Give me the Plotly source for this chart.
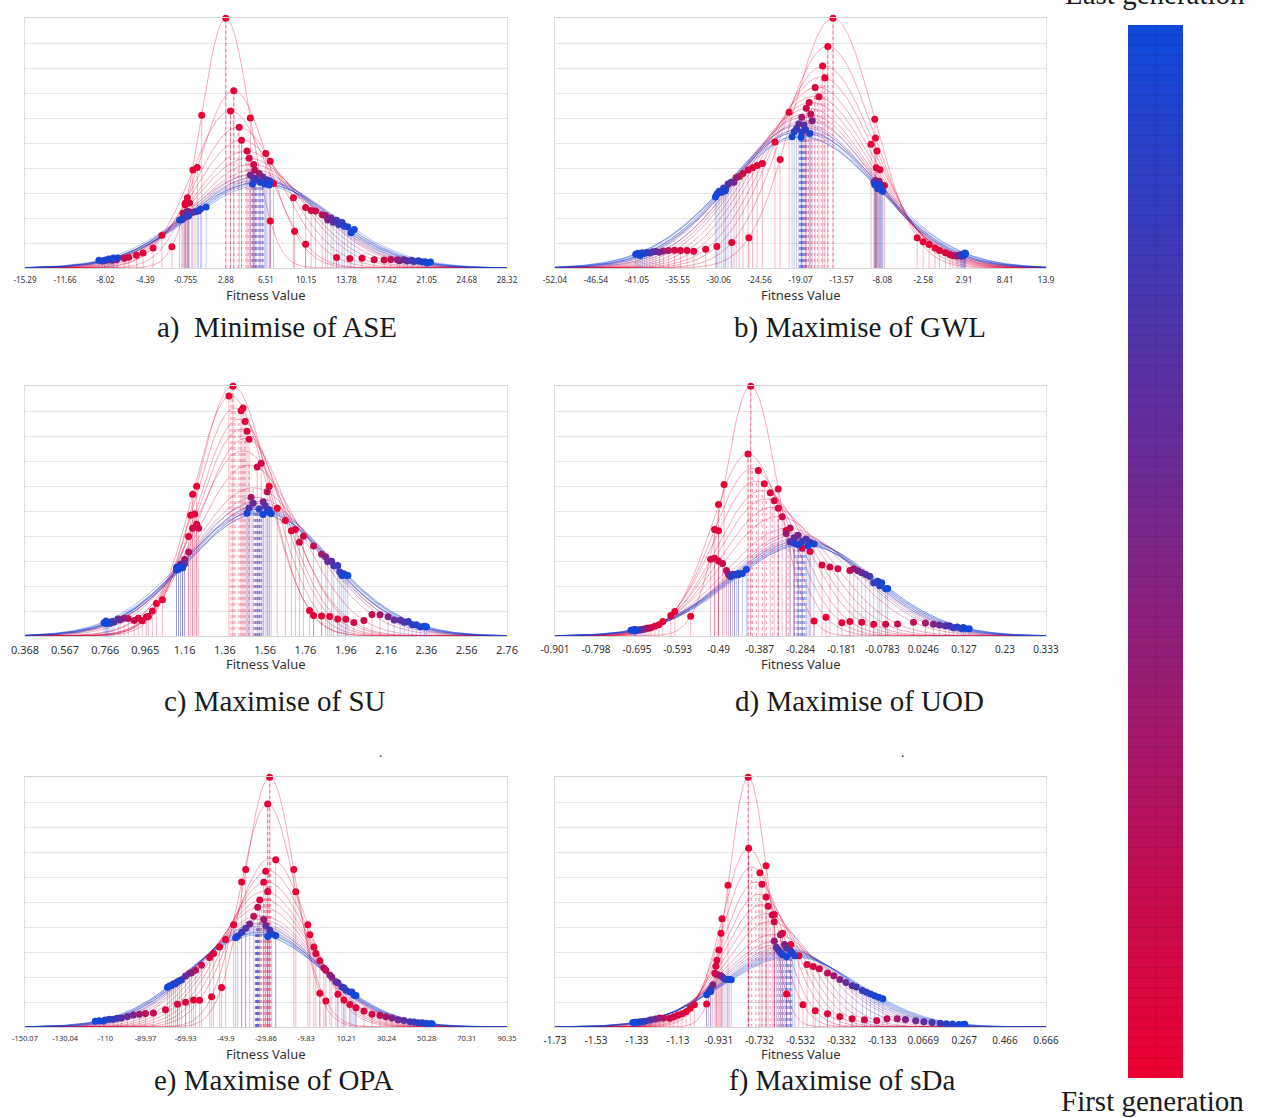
import numpy as np
import plotly.graph_objects as go

W, H = 1266, 1118

# ---------------- data ----------------
# generation numbers shown (out of 100), shared by all panels
gen_no = [1, 2, 3, 4, 6, 8, 11, 15, 22, 35, 50, 60, 68, 75, 81, 86, 90, 94, 97, 100]
GEN_LAST = 100

a_ticks = ["-15.29", "-11.66", "-8.02", "-4.39", "-0.755", "2.88", "6.51", "10.15", "13.78", "17.42", "21.05", "24.68", "28.32"]
a_mean = [2.88, 3.6, 3.3, 4.0, 4.3, 4.7, 4.9, 5.2, 5.4, 5.6, 5.3, 5.8, 5.5, 6.0, 5.7, 6.2, 5.9, 6.1, 5.6, 6.3]
a_sigma = [2.2, 3.1, 3.5, 3.9, 4.3, 4.7, 5.0, 5.3, 5.6, 5.8, 5.9, 6.0, 6.1, 6.2, 6.2, 6.3, 6.4, 6.5, 6.5, 6.6]
a_pts = [[-2.0, 0.7, 2.88, 5.1, 6.9], [-0.8, 0.3, 3.6, 6.5, 9.1], [-2.9, -0.1, 3.3, 7.2, 10.1],
         [-3.7, -0.6, 4.1, 6.9, 12.9], [-4.6, -0.8, 4.3, 9.0, 14.1], [-5.2, -0.4, 4.8, 10.1, 15.2],
         [-5.9, -1.0, 5.0, 10.6, 16.3], [-6.3, -0.7, 5.4, 11.0, 17.2], [-7.0, -0.5, 5.5, 11.6, 17.8],
         [-7.4, -0.9, 5.9, 11.9, 18.4], [-7.8, -0.6, 5.1, 12.1, 18.6], [-7.2, -0.2, 6.2, 12.4, 19.0],
         [-8.1, -0.8, 5.4, 12.6, 19.3], [-7.5, 0.1, 6.6, 12.9, 19.7], [-8.3, -1.1, 5.6, 13.1, 19.9],
         [-6.9, 0.4, 6.9, 13.4, 20.3], [-8.0, -0.5, 6.0, 13.6, 20.6], [-7.7, 0.6, 5.3, 13.9, 20.9],
         [-8.6, -1.3, 6.4, 14.2, 21.1], [-7.3, 1.1, 6.8, 14.5, 21.4]]

b_ticks = ["-52.04", "-46.54", "-41.05", "-35.55", "-30.06", "-24.56", "-19.07", "-13.57", "-8.08", "-2.58", "2.91", "8.41", "13.9"]
b_mean = [-14.7, -15.4, -15.9, -16.3, -16.8, -17.2, -17.6, -18.0, -18.2, -18.5, -18.3, -18.7, -18.9, -18.6, -19.0, -18.8, -19.2, -18.4, -19.1, -18.9]
b_sigma = [5.5, 6.2, 6.8, 7.2, 7.6, 8.0, 8.3, 8.6, 8.9, 9.1, 9.3, 9.5, 9.6, 9.8, 9.9, 10.0, 10.1, 10.2, 10.4, 10.5]
b_pts = [[-26.0, -21.8, -14.7, -9.1, -3.4], [-28.3, -20.6, -15.4, -9.0, -2.6], [-30.3, -22.5, -16.1, -8.8, -1.8],
         [-31.8, -24.2, -15.8, -9.6, -1.0], [-33.4, -24.9, -17.1, -8.4, -0.4], [-34.3, -25.5, -16.6, -8.9, 0.4],
         [-35.2, -26.1, -17.9, -7.8, 1.0], [-36.0, -26.8, -18.3, -8.5, 1.4], [-36.8, -27.3, -17.7, -8.2, 1.8],
         [-37.5, -27.7, -18.9, -9.0, 2.0], [-38.0, -28.0, -17.5, -8.6, 2.2], [-38.5, -28.4, -19.3, -8.9, 2.4],
         [-38.9, -28.8, -18.6, -9.2, 2.5], [-39.3, -29.1, -19.6, -8.3, 2.6], [-39.7, -29.4, -18.4, -8.8, 2.7],
         [-40.0, -29.7, -19.9, -8.0, 2.8], [-40.3, -30.0, -18.9, -8.7, 2.9], [-40.6, -29.2, -17.8, -8.4, 3.0],
         [-40.9, -30.3, -20.2, -9.1, 3.0], [-41.2, -30.5, -19.0, -8.1, 3.1]]

c_ticks = ["0.368", "0.567", "0.766", "0.965", "1.16", "1.36", "1.56", "1.76", "1.96", "2.16", "2.36", "2.56", "2.76"]
c_mean = [1.40, 1.39, 1.41, 1.43, 1.44, 1.46, 1.45, 1.48, 1.50, 1.51, 1.52, 1.51, 1.53, 1.52, 1.54, 1.52, 1.53, 1.51, 1.54, 1.53]
c_sigma = [0.178, 0.185, 0.195, 0.205, 0.215, 0.225, 0.24, 0.26, 0.30, 0.32, 0.33, 0.335, 0.34, 0.345, 0.35, 0.35, 0.355, 0.36, 0.36, 0.365]
c_pts = [[1.05, 1.22, 1.40, 1.58, 1.78], [1.02, 1.20, 1.38, 1.45, 1.80], [1.00, 1.19, 1.44, 1.62, 1.84],
         [0.98, 1.21, 1.46, 1.66, 1.88], [0.97, 1.18, 1.47, 1.69, 1.92], [0.95, 1.22, 1.48, 1.71, 1.96],
         [0.93, 1.20, 1.54, 1.73, 2.00], [0.91, 1.23, 1.52, 1.75, 2.05], [0.88, 1.18, 1.57, 1.80, 2.09],
         [0.86, 1.16, 1.49, 1.84, 2.13], [0.84, 1.15, 1.55, 1.86, 2.17], [0.83, 1.14, 1.50, 1.87, 2.20],
         [0.81, 1.16, 1.56, 1.89, 2.23], [0.80, 1.13, 1.48, 1.90, 2.25], [0.79, 1.15, 1.58, 1.92, 2.27],
         [0.78, 1.12, 1.53, 1.93, 2.29], [0.78, 1.14, 1.57, 1.95, 2.31], [0.77, 1.12, 1.47, 1.94, 2.33],
         [0.77, 1.15, 1.59, 1.97, 2.35], [0.76, 1.13, 1.55, 1.96, 2.36]]

d_ticks = ["-0.901", "-0.798", "-0.695", "-0.593", "-0.49", "-0.387", "-0.284", "-0.181", "-0.0783", "0.0246", "0.127", "0.23", "0.333"]
d_mean = [-0.409, -0.416, -0.405, -0.395, -0.38, -0.37, -0.355, -0.34, -0.315, -0.30, -0.295, -0.29, -0.285, -0.28, -0.29, -0.275, -0.285, -0.27, -0.28, -0.275]
d_sigma = [0.067, 0.092, 0.10, 0.108, 0.115, 0.122, 0.13, 0.14, 0.155, 0.162, 0.166, 0.17, 0.172, 0.175, 0.177, 0.178, 0.18, 0.181, 0.183, 0.185]
d_pts = [[-0.56, -0.476, -0.409, -0.34, -0.25], [-0.60, -0.49, -0.416, -0.32, -0.22], [-0.61, -0.50, -0.39, -0.30, -0.18],
         [-0.63, -0.49, -0.375, -0.28, -0.16], [-0.64, -0.51, -0.36, -0.26, -0.13], [-0.65, -0.50, -0.35, -0.23, -0.10],
         [-0.66, -0.49, -0.34, -0.21, -0.07], [-0.665, -0.48, -0.33, -0.19, -0.04], [-0.67, -0.47, -0.31, -0.16, 0.0],
         [-0.675, -0.465, -0.32, -0.15, 0.03], [-0.68, -0.46, -0.29, -0.14, 0.05], [-0.685, -0.455, -0.30, -0.13, 0.065],
         [-0.69, -0.45, -0.27, -0.12, 0.08], [-0.695, -0.445, -0.31, -0.11, 0.09], [-0.70, -0.46, -0.28, -0.10, 0.10],
         [-0.70, -0.44, -0.26, -0.09, 0.11], [-0.705, -0.45, -0.30, -0.085, 0.12], [-0.70, -0.43, -0.25, -0.08, 0.125],
         [-0.71, -0.44, -0.29, -0.07, 0.13], [-0.70, -0.42, -0.265, -0.065, 0.14]]

e_ticks = ["-150.07", "-130.04", "-110", "-89.97", "-69.93", "-49.9", "-29.86", "-9.83", "10.21", "30.24", "50.28", "70.31", "90.35"]
e_mean = [-28.0, -29.0, -27.5, -28.5, -29.5, -30.5, -31.0, -32.0, -32.5, -33.0, -33.5, -34.0, -33.8, -34.5, -34.2, -35.0, -34.6, -33.5, -35.2, -34.8]
e_sigma = [12.5, 14.0, 18.5, 20.0, 21.5, 23.0, 24.5, 26.0, 28.0, 29.0, 30.0, 30.5, 31.0, 31.5, 32.0, 32.5, 33.0, 33.0, 33.5, 34.0]
e_pts = [[-52, -40, -28, -16, -3], [-57, -42, -29, -15, 0], [-63, -46, -25, -9, 6],
         [-66, -50, -30, -8, 9], [-70, -53, -31, -6, 12], [-74, -56, -29, -5, 15],
         [-80, -58, -33, -3, 19], [-86, -62, -34, -1, 23], [-90, -65, -36, 0, 27],
         [-93, -67, -31, 2, 30], [-96, -68, -38, 3, 33], [-99, -70, -30, 5, 36],
         [-102, -72, -40, 6, 39], [-104, -74, -28, 8, 42], [-106, -75, -42, 9, 44],
         [-108, -76, -27, 10, 46], [-110, -77, -44, 12, 48], [-111, -73, -25, 13, 50],
         [-113, -79, -45, 14, 52], [-115, -78, -29, 15, 53]]

f_ticks = ["-1.73", "-1.53", "-1.33", "-1.13", "-0.931", "-0.732", "-0.532", "-0.332", "-0.133", "0.0669", "0.267", "0.466", "0.666"]
f_mean = [-0.787, -0.785, -0.77, -0.75, -0.735, -0.72, -0.70, -0.68, -0.66, -0.645, -0.635, -0.625, -0.615, -0.605, -0.60, -0.595, -0.59, -0.585, -0.58, -0.575]
f_sigma = [0.093, 0.13, 0.145, 0.16, 0.175, 0.19, 0.205, 0.22, 0.25, 0.27, 0.28, 0.29, 0.295, 0.30, 0.305, 0.31, 0.315, 0.32, 0.325, 0.33]
f_pts = [[-0.99, -0.886, -0.787, -0.70, -0.60], [-1.05, -0.915, -0.785, -0.66, -0.52], [-1.07, -0.92, -0.73, -0.62, -0.46],
         [-1.09, -0.93, -0.72, -0.58, -0.40], [-1.11, -0.94, -0.70, -0.54, -0.34], [-1.13, -0.945, -0.69, -0.50, -0.28],
         [-1.15, -0.95, -0.67, -0.47, -0.22], [-1.17, -0.94, -0.66, -0.44, -0.16], [-1.20, -0.93, -0.63, -0.40, -0.11],
         [-1.22, -0.92, -0.66, -0.37, -0.06], [-1.24, -0.96, -0.61, -0.34, -0.02], [-1.26, -0.91, -0.65, -0.31, 0.03],
         [-1.27, -0.97, -0.60, -0.28, 0.07], [-1.29, -0.90, -0.64, -0.26, 0.11], [-1.30, -0.98, -0.58, -0.23, 0.15],
         [-1.31, -0.89, -0.63, -0.21, 0.18], [-1.32, -0.97, -0.57, -0.19, 0.21], [-1.33, -0.88, -0.62, -0.17, 0.24],
         [-1.34, -0.99, -0.56, -0.15, 0.26], [-1.35, -0.87, -0.60, -0.13, 0.27]]

captions = ["a)\u00a0 Minimise of ASE", "b) Maximise of GWL", "c) Maximise of SU",
            "d) Maximise of UOD", "e) Maximise of OPA", "f) Maximise of sDa"]

# ---------------- layout geometry (pixels) ----------------
cols = [(25, 507), (555, 1046)]
rows = [(18, 268), (386, 636), (777, 1027)]
tick_sizes = [8, 8.5, 11, 10, 7.5, 10]
cap_pos = [(277, 328), (860, 328), (275, 701), (859, 701), (274, 1080), (842, 1080)]
fv_y = [295, 295, 664, 664, 1054, 1054]

RED = np.array([235, 0, 50])
BLUE = np.array([15, 72, 218])


def col(t, a=1.0):
    c = RED * (1 - t) + BLUE * t
    return "rgba(%d,%d,%d,%.3f)" % (c[0], c[1], c[2], a)


def pdf(x, m, s):
    return np.exp(-0.5 * ((x - m) / s) ** 2) / (s * np.sqrt(2 * np.pi))


def xp(px):
    return px / W


def yp(py):
    return 1 - py / H


panels = [(a_ticks, a_mean, a_sigma, a_pts), (b_ticks, b_mean, b_sigma, b_pts),
          (c_ticks, c_mean, c_sigma, c_pts), (d_ticks, d_mean, d_sigma, d_pts),
          (e_ticks, e_mean, e_sigma, e_pts), (f_ticks, f_mean, f_sigma, f_pts)]

fig = go.Figure()
layout = {}
annotations = []

for i, (ticks, means, sigmas, pts) in enumerate(panels):
    r, c = divmod(i, 2)
    ax = "" if i == 0 else str(i + 1)
    xref, yref = "x" + ax, "y" + ax
    tv = [float(t) for t in ticks]
    xmin, xmax = tv[0], tv[-1]
    ymax = max(1 / (s * np.sqrt(2 * np.pi)) for s in sigmas)
    xs = np.linspace(xmin, xmax, 400)
    dot_x, dot_y, dot_c = [], [], []
    for g in range(len(means)):
        t = (gen_no[g] - 1) / (GEN_LAST - 1)
        m, s = means[g], sigmas[g]
        fig.add_trace(go.Scatter(x=xs, y=pdf(xs, m, s), mode="lines", xaxis=xref, yaxis=yref,
                                 line=dict(color=col(t, 0.42), width=0.8), hoverinfo="skip", showlegend=False))
        vx, vy = [], []
        for p in pts[g]:
            vx += [p, p, None]
            vy += [0, pdf(p, m, s), None]
            dot_x.append(p)
            dot_y.append(pdf(p, m, s))
            dot_c.append(col(t, 1.0))
        fig.add_trace(go.Scatter(x=vx, y=vy, mode="lines", xaxis=xref, yaxis=yref,
                                 line=dict(color=col(t, 0.4), width=0.7), hoverinfo="skip", showlegend=False))
        fig.add_trace(go.Scatter(x=[m, m], y=[0, pdf(m, m, s)], mode="lines", xaxis=xref, yaxis=yref,
                                 line=dict(color=col(t, 0.55), width=0.8, dash="dot"), hoverinfo="skip", showlegend=False))
    fig.add_trace(go.Scatter(x=dot_x, y=dot_y, mode="markers", xaxis=xref, yaxis=yref, cliponaxis=False,
                             marker=dict(color=dot_c, size=7, line=dict(width=0)), hoverinfo="skip", showlegend=False))

    x0, x1 = cols[c]
    y0, y1 = rows[r]
    layout["xaxis" + ax] = dict(domain=[xp(x0), xp(x1)], anchor=yref, range=[xmin, xmax],
                                tickvals=tv, ticktext=ticks, ticks="outside", ticklen=4,
                                tickcolor="rgba(0,0,0,0)", showgrid=False, zeroline=False,
                                showline=True, linecolor="#d4d4d4", linewidth=1, mirror=True,
                                tickfont=dict(family="Noto Sans", size=tick_sizes[i], color="#333"))
    layout["yaxis" + ax] = dict(domain=[yp(y1), yp(y0)], anchor=xref, range=[0, ymax * 1.001],
                                tick0=0, dtick=ymax / 10, showticklabels=False, ticks="",
                                showgrid=True, gridcolor="#e6e6e6", gridwidth=1, zeroline=False,
                                showline=True, linecolor="#e0e0e0", mirror=True)
    annotations.append(dict(text="Fitness Value", x=xp((x0 + x1) / 2), y=yp(fv_y[i]), xref="paper", yref="paper",
                            showarrow=False, xanchor="center", yanchor="middle",
                            font=dict(family="Noto Sans", size=13, color="#333")))
    cx, cy = cap_pos[i]
    annotations.append(dict(text=captions[i], x=xp(cx), y=yp(cy), xref="paper", yref="paper",
                            showarrow=False, xanchor="center", yanchor="middle",
                            font=dict(family="Liberation Serif", size=29, color="#1a1a1a")))

# ---------------- generation colour bar ----------------
NB = 105
fig.add_trace(go.Heatmap(z=[[k, k] for k in range(NB)], x=[0, 1], y=list(range(NB)), xaxis="x7", yaxis="y7",
                         colorscale=[[0, col(0)], [1, col(1)]], showscale=False, hoverinfo="skip"))
lx, ly = [], []
for k in range(NB - 1):
    lx += [-0.5, 1.5, None]
    ly += [k + 0.5, k + 0.5, None]
lx += [0.5, 0.5, None]
ly += [-0.5, NB - 0.5, None]
fig.add_trace(go.Scatter(x=lx, y=ly, mode="lines", xaxis="x7", yaxis="y7",
                         line=dict(color="rgba(40,0,40,0.18)", width=0.6), hoverinfo="skip", showlegend=False))
layout["xaxis7"] = dict(domain=[xp(1128), xp(1183)], anchor="y7", range=[-0.5, 1.5], visible=False)
layout["yaxis7"] = dict(domain=[yp(1078), yp(25)], anchor="x7", range=[-0.5, NB - 0.5], visible=False)

annotations.append(dict(text="Last generation", x=xp(1155), y=yp(-6), xref="paper", yref="paper",
                        showarrow=False, xanchor="center", yanchor="middle",
                        font=dict(family="Liberation Serif", size=29, color="#1a1a1a")))
annotations.append(dict(text="First generation", x=xp(1152), y=yp(1101), xref="paper", yref="paper",
                        showarrow=False, xanchor="center", yanchor="middle",
                        font=dict(family="Liberation Serif", size=29, color="#1a1a1a")))
for dx in (377, 907):
    annotations.append(dict(text=".", x=xp(dx), y=yp(762), xref="paper", yref="paper", showarrow=False,
                            font=dict(family="Liberation Serif", size=14, color="#333")))

fig.update_layout(width=W, height=H, margin=dict(l=0, r=0, t=0, b=0, autoexpand=False), paper_bgcolor="white",
                  plot_bgcolor="white", showlegend=False, annotations=annotations, **layout)
fig.write_html("out.html", config={"displayModeBar": False},
               post_script="document.body.style.margin='0px';")
